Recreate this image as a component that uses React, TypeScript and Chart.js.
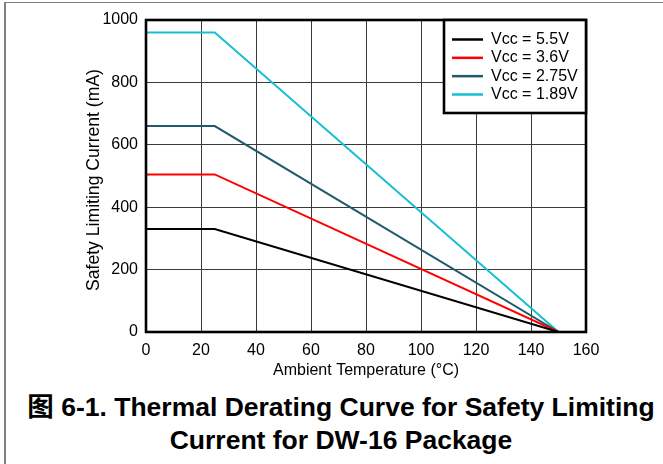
import React, { useEffect, useRef } from "react";
import { Chart, registerables } from "chart.js";

Chart.register(...registerables);

// ---- data ----
const temperatures = [0, 25, 150];
const vcc55 = [330, 330, 0];
const vcc36 = [505, 505, 0];
const vcc275 = [660, 660, 0];
const vcc189 = [960, 960, 0];
const seriesLabels = ["Vcc = 5.5V", "Vcc = 3.6V", "Vcc = 2.75V", "Vcc = 1.89V"];
const seriesColors = ["#000000", "#ff0000", "#1f5a6e", "#17bfd3"];
const seriesValues = [vcc55, vcc36, vcc275, vcc189];
const xTickValues = [0, 20, 40, 60, 80, 100, 120, 140, 160];
const yTickValues = [0, 200, 400, 600, 800, 1000];
const xTitle = "Ambient Temperature (°C)";
const yTitle = "Safety Limiting Current (mA)";
const captionLine1 = "图 6-1. Thermal Derating Curve for Safety Limiting";
const captionLine2 = "Current for DW-16 Package";

const FONT = "'Liberation Sans', Arial, 'Noto Sans CJK SC', sans-serif";

const framePlugin = {
  id: "frameBox",
  afterDatasetsDraw(chart: any) {
    const { ctx, chartArea } = chart;
    ctx.save();
    ctx.strokeStyle = "#000";
    ctx.lineWidth = 2.6;
    ctx.strokeRect(
      chartArea.left,
      chartArea.top,
      chartArea.right - chartArea.left,
      chartArea.bottom - chartArea.top
    );
    ctx.restore();
  },
};

const yTitlePlugin = {
  id: "yTitleText",
  afterDraw(chart: any) {
    const { ctx, chartArea } = chart;
    ctx.save();
    ctx.translate(94, (chartArea.top + chartArea.bottom) / 2 + 4);
    ctx.rotate(-Math.PI / 2);
    ctx.font = `17.6px ${FONT}`;
    ctx.fillStyle = "#000";
    ctx.textAlign = "center";
    ctx.textBaseline = "middle";
    ctx.fillText(yTitle, 0, 0);
    ctx.restore();
  },
};

const legendPlugin = {
  id: "boxLegend",
  afterDraw(chart: any) {
    const { ctx, chartArea } = chart;
    const w = 142;
    const h = 93;
    const x2 = chartArea.right;
    const y1 = chartArea.top;
    const x1 = x2 - w;
    ctx.save();
    ctx.fillStyle = "#fff";
    ctx.fillRect(x1, y1, w, h);
    ctx.strokeStyle = "#000";
    ctx.lineWidth = 2.6;
    ctx.strokeRect(x1, y1, w, h);
    ctx.font = `16px ${FONT}`;
    ctx.textBaseline = "middle";
    ctx.textAlign = "left";
    chart.data.datasets.forEach((ds: any, i: number) => {
      const cy = y1 + 19.5 + i * 18.33;
      ctx.strokeStyle = ds.borderColor;
      ctx.lineWidth = 2.5;
      ctx.beginPath();
      ctx.moveTo(x1 + 8, cy);
      ctx.lineTo(x1 + 39, cy);
      ctx.stroke();
      ctx.fillStyle = "#000";
      ctx.fillText(ds.label, x1 + 47, cy);
    });
    ctx.restore();
  },
};

export default function App() {
  const canvasRef = useRef<HTMLCanvasElement | null>(null);

  useEffect(() => {
    if (!canvasRef.current) return;
    const chart = new Chart(canvasRef.current, {
      type: "line",
      data: {
        datasets: seriesValues.map((vals, i) => ({
          label: seriesLabels[i],
          data: temperatures.map((t, j) => ({ x: t, y: vals[j] })),
          borderColor: seriesColors[i],
          backgroundColor: seriesColors[i],
          borderWidth: 2,
          pointRadius: 0,
          fill: false,
          tension: 0,
        })),
      },
      options: {
        responsive: false,
        animation: false,
        devicePixelRatio: 1,
        layout: { padding: { left: 0, top: 20, right: 77, bottom: 0 } },
        plugins: {
          legend: { display: false },
          tooltip: { enabled: false },
          title: { display: false },
        },
        scales: {
          x: {
            type: "linear",
            min: 0,
            max: 160,
            afterBuildTicks: (s: any) => {
              s.ticks = xTickValues.map((v) => ({ value: v }));
            },
            ticks: {
              color: "#000",
              font: { family: FONT, size: 16 },
              padding: 9,
              maxRotation: 0,
              autoSkip: false,
              callback: (v: any) => String(v),
            },
            grid: { color: "#3a3a3a", lineWidth: 1, drawTicks: false },
            border: { display: false },
            title: {
              display: true,
              text: xTitle,
              color: "#000",
              font: { family: FONT, size: 16 },
              padding: { top: 0, bottom: 0 },
            },
            afterFit: (s: any) => {
              s.height = 48;
            },
          },
          y: {
            type: "linear",
            min: 0,
            max: 1000,
            afterBuildTicks: (s: any) => {
              s.ticks = yTickValues.map((v) => ({ value: v }));
            },
            ticks: {
              color: "#000",
              font: { family: FONT, size: 16 },
              padding: 8,
              autoSkip: false,
              callback: (v: any) => String(v),
            },
            grid: { color: "#3a3a3a", lineWidth: 1, drawTicks: false },
            border: { display: false },
            title: { display: false },
            afterFit: (s: any) => {
              s.width = 146;
            },
          },
        },
      },
      plugins: [framePlugin, yTitlePlugin, legendPlugin],
    } as any);
    return () => chart.destroy();
  }, []);

  const captionStyle: React.CSSProperties = {
    position: "absolute",
    left: 0,
    width: 682,
    textAlign: "center",
    fontFamily: FONT,
    fontWeight: "bold",
    fontSize: 26.5,
    lineHeight: "33px",
    whiteSpace: "nowrap",
    color: "#000",
  };

  return (
    <div
      style={{
        position: "fixed",
        left: 0,
        top: 0,
        width: 663,
        height: 464,
        background: "#fff",
        overflow: "hidden",
      }}
    >
      <div
        style={{
          position: "absolute",
          left: 4,
          top: 2,
          width: 700,
          height: 500,
          borderLeft: "2px solid #808080",
          borderTop: "1px solid #808080",
        }}
      />
      <canvas
        ref={canvasRef}
        width={663}
        height={380}
        style={{ position: "absolute", left: 0, top: 0, width: 663, height: 380 }}
      />
      <div style={{ ...captionStyle, top: 391 }}>{captionLine1}</div>
      <div style={{ ...captionStyle, top: 424 }}>{captionLine2}</div>
    </div>
  );
}
